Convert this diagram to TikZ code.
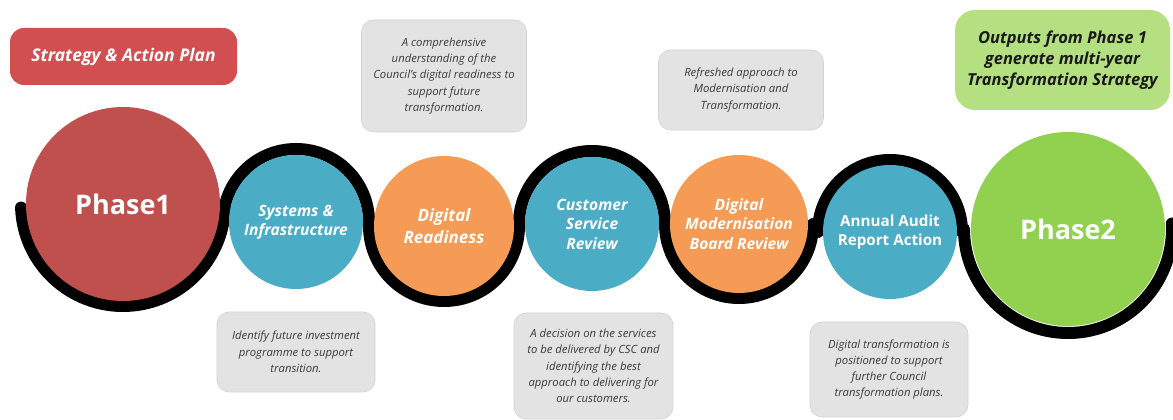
\documentclass[tikz,border=0pt]{standalone}
\usepackage{fontspec}
\setmainfont{Open Sans}
\usetikzlibrary{backgrounds}
\definecolor{phaseone}{HTML}{C0504D}
\definecolor{phasetwo}{HTML}{92D050}
\definecolor{stageblue}{HTML}{4BACC6}
\definecolor{stageorange}{HTML}{F59B55}
\definecolor{planred}{HTML}{D14F50}
\definecolor{outgreen}{HTML}{B4E082}
\definecolor{notegrey}{HTML}{E3E3E3}
\definecolor{noteedge}{HTML}{D2D2D2}
\definecolor{notetext}{HTML}{3A3A3A}
\begin{document}
\begin{tikzpicture}[x=1pt,y=1pt,
  stage/.style={circle, inner sep=0pt, draw=none, text=white, align=center,
    font=\bfseries\itshape\fontsize{15.6}{19.5}\selectfont},
  phase/.style={stage, font=\bfseries\fontsize{27}{30}\selectfont},
  note/.style={rounded corners=12pt, fill=notegrey, draw=noteedge, line width=0.6pt,
    align=center, text=notetext, inner sep=0pt,
    font=\itshape\fontsize{11.3}{16.3}\selectfont},
  banner/.style={align=center, inner sep=0pt, font=\bfseries\itshape\fontsize{16.5}{21}\selectfont},
  ribbon/.style={line width=12pt, line cap=round, line join=round, draw=black}
]
\useasboundingbox (0,0) rectangle (1173,420);

% stage circles
\node[phase, fill=phaseone, minimum size=194pt] (p1) at (123,216) {Phase1};
\node[stage, fill=stageblue, minimum size=134pt] (s) at (296,198) {Systems \&\\Infrastructure};
\node[stage, fill=stageorange, minimum size=140pt, font=\bfseries\itshape\fontsize{17}{22}\selectfont] (dr) at (444,194) {Digital\\Readiness};
\node[stage, fill=stageblue, minimum size=134pt] (cs) at (592,196) {Customer\\Service\\Review};
\node[stage, fill=stageorange, minimum size=138pt] (dm) at (739,196) {Digital\\Modernisation\\Board Review};
\node[stage, fill=stageblue, minimum size=134pt, font=\bfseries\fontsize{15.2}{19}\selectfont] (aa) at (890,188) {Annual Audit\\Report Action};
\node[phase, fill=phasetwo, minimum size=194pt] (p2) at (1068,191) {Phase2};

% wavy ribbon running around the circles
\begin{pgfonlayer}{background}
\draw[ribbon]
  ([shift={(182:102)}]p1.center) arc[start angle=182, end angle=360, radius=102]
  -- ([shift={(180:73)}]s.center) arc[start angle=180, end angle=0, radius=73]
  -- ([shift={(180:75)}]dr.center) arc[start angle=180, end angle=360, radius=75]
  -- ([shift={(180:73)}]cs.center) arc[start angle=180, end angle=0, radius=73]
  -- ([shift={(180:74)}]dm.center) arc[start angle=180, end angle=360, radius=74]
  -- ([shift={(180:72)}]aa.center) arc[start angle=180, end angle=0, radius=72]
  -- ([shift={(180:104)}]p2.center) arc[start angle=180, end angle=363, radius=104];
\end{pgfonlayer}

% headline boxes
\node[banner, rounded corners=14pt, fill=planred, text=white, minimum width=227pt, minimum height=57pt, font=\bfseries\itshape\fontsize{17.5}{21}\selectfont] (plan) at (123.5,363.5) {Strategy \& Action Plan};
\node[banner, rounded corners=20pt, fill=outgreen, text=black!90, minimum width=215pt, minimum height=100pt] (outputs) at (1062.5,360) {Outputs from Phase 1\\generate multi-year\\Transformation Strategy};

% outcome notes
\node[note, minimum width=165pt, minimum height=112pt] (n1) at (444,344) {A comprehensive\\understanding of the\\Council’s digital readiness to\\support future\\transformation.};
\node[note, minimum width=165pt, minimum height=80pt] (n2) at (741,330) {Refreshed approach to\\Modernisation and\\Transformation.};
\node[note, minimum width=158pt, minimum height=80pt] (n3) at (296,68) {Identify future investment\\programme to support\\transition.};
\node[note, minimum width=159pt, minimum height=106pt] (n4) at (593.5,54) {A decision on the services\\to be delivered by CSC and\\identifying the best\\approach to delivering for\\our customers.};
\node[note, minimum width=158pt, minimum height=95pt] (n5) at (889,50.5) {Digital transformation is\\positioned to support\\further Council\\transformation plans.};
\end{tikzpicture}
\end{document}
